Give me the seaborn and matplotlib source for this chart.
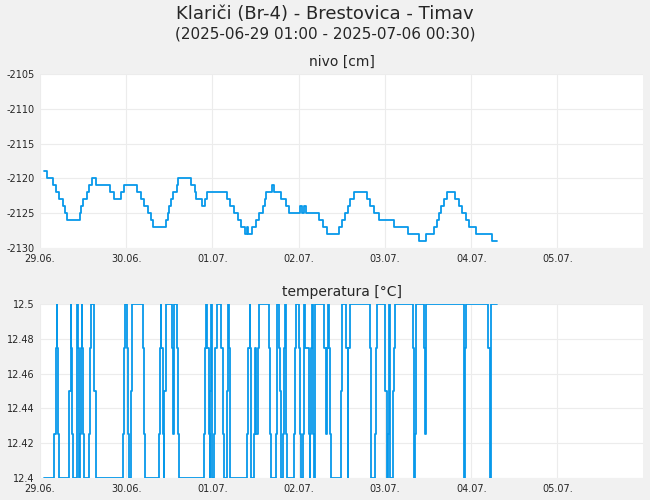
import matplotlib
matplotlib.use('Agg')
import matplotlib.pyplot as plt
import matplotlib.dates as mdates
import numpy as np
import pandas as pd
import seaborn as sns

start = pd.Timestamp('2025-06-29 00:00')

# nivo [cm]: hours from 29.06. 00:00 and level after each change
nivo_h = [1, 2, 3.5, 4.5, 5.3, 6.3, 7, 7.5, 11, 11.5, 12, 13, 13.5, 14.5, 15.5, 19.5, 20.5, 22.5,
          23.5, 27, 28, 29, 30, 31, 31.5, 35, 35.5, 36, 36.5, 37, 38, 38.5, 42, 43, 43.5, 45, 46,
          46.5, 52, 53, 54, 55, 56, 57, 57.5, 58, 59, 60, 61, 62, 62.5, 63, 64.5, 65.2, 67.0, 68.4,
          69.4, 72.4, 72.9, 73.4, 74.0, 77.7, 78.7, 80.0, 83.1, 84.0, 85.0, 85.6, 86.3, 87.5, 91.0,
          91.9, 93.0, 94.3, 98.4, 102.4, 105.4, 107.4, 109.6, 110.4, 111, 111.6, 112.3, 113.3, 115.5,
          116.5, 117.5, 118.6, 119.3, 121.4, 125.7, 127.2]
nivo_v = [-2119, -2120, -2121, -2122, -2123, -2124, -2125, -2126, -2125, -2124, -2123, -2122, -2121,
          -2120, -2121, -2122, -2123, -2122, -2121, -2122, -2123, -2124, -2125, -2126, -2127, -2126,
          -2125, -2124, -2123, -2122, -2121, -2120, -2121, -2122, -2123, -2124, -2123, -2122, -2123,
          -2124, -2125, -2126, -2127, -2128, -2127, -2128, -2127, -2126, -2125, -2124, -2123, -2122,
          -2121, -2122, -2123, -2124, -2125, -2124, -2125, -2124, -2125, -2126, -2127, -2128, -2127,
          -2126, -2125, -2124, -2123, -2122, -2123, -2124, -2125, -2126, -2127, -2128, -2129, -2128,
          -2127, -2126, -2125, -2124, -2123, -2122, -2123, -2124, -2125, -2126, -2127, -2128, -2129,
          -2129]

# temperatura [°C]
temp_h = [1, 4.0, 4.4, 4.6, 4.8, 5.1, 5.3, 8.2, 8.5, 8.6, 8.9, 9.2, 10.2, 10.4, 10.6, 10.9, 11.2,
          11.4, 11.6, 11.8, 12.1, 12.3, 13.5, 13.8, 14.1, 15.1, 15.5, 23.0, 23.4, 23.6, 24.2, 24.5,
          24.8, 25.2, 25.5, 28.6, 29.0, 29.3, 33.0, 33.4, 33.6, 33.8, 34.2, 34.4, 34.6, 35.0, 36.6,
          37.0, 37.2, 37.4, 38.1, 38.5, 38.6, 45.5, 45.9, 46.2, 46.6, 46.9, 47.2, 47.4, 47.6, 47.8,
          48.0, 48.3, 48.7, 49.2, 50.5, 50.9, 51.2, 52.0, 52.4, 52.7, 53.0, 57.6, 58.0, 58.3, 58.5,
          58.7, 59.5, 59.8, 60.2, 60.6, 61.0, 63.7, 64.1, 64.4, 65.7, 66.0, 66.6, 66.9, 67.1, 67.5,
          67.9, 68.2, 68.4, 68.6, 70.7, 71.0, 71.2, 72.2, 72.4, 72.7, 73.1, 73.4, 73.6, 73.8, 74.8,
          75.0, 75.1, 75.3, 75.6, 75.9, 76.1, 76.2, 76.4, 79.1, 79.6, 79.9, 80.1, 80.5, 80.8, 81.1,
          83.7, 84.1, 85.2, 85.6, 85.8, 86.2, 91.7, 92.0, 92.2, 93.3, 93.5, 93.8, 96.1, 96.5, 96.8,
          97.0, 97.2, 97.5, 98.2, 98.5, 98.9, 103.7, 104.0, 104.3, 104.7, 106.8, 107.2, 107.5, 117.9,
          118.1, 118.2, 118.6, 124.8, 125.1, 125.3, 125.5, 127.2]
temp_v = [12.4, 12.425, 12.475, 12.5, 12.475, 12.425, 12.4, 12.45, 12.5, 12.475, 12.425, 12.4, 12.45,
          12.5, 12.475, 12.4, 12.425, 12.475, 12.5, 12.475, 12.425, 12.4, 12.425, 12.475, 12.5, 12.45,
          12.4, 12.425, 12.475, 12.5, 12.475, 12.425, 12.4, 12.45, 12.5, 12.475, 12.425, 12.4, 12.425,
          12.475, 12.5, 12.475, 12.425, 12.4, 12.45, 12.5, 12.475, 12.425, 12.45, 12.5, 12.475, 12.425,
          12.4, 12.425, 12.475, 12.5, 12.475, 12.425, 12.4, 12.45, 12.5, 12.425, 12.4, 12.425, 12.475,
          12.5, 12.475, 12.425, 12.4, 12.45, 12.5, 12.475, 12.4, 12.425, 12.475, 12.5, 12.475, 12.4,
          12.425, 12.475, 12.425, 12.475, 12.5, 12.475, 12.425, 12.4, 12.425, 12.5, 12.475, 12.45,
          12.4, 12.425, 12.475, 12.5, 12.425, 12.4, 12.425, 12.475, 12.5, 12.475, 12.425, 12.4, 12.425,
          12.475, 12.5, 12.475, 12.425, 12.4, 12.425, 12.475, 12.5, 12.45, 12.425, 12.4, 12.5, 12.475,
          12.425, 12.475, 12.5, 12.475, 12.425, 12.4, 12.45, 12.5, 12.475, 12.4, 12.475, 12.5, 12.475,
          12.425, 12.4, 12.425, 12.475, 12.5, 12.45, 12.4, 12.425, 12.475, 12.5, 12.4, 12.45, 12.475,
          12.5, 12.475, 12.4, 12.425, 12.5, 12.475, 12.425, 12.5, 12.45, 12.4, 12.475, 12.5, 12.475,
          12.425, 12.4, 12.5, 12.5]

nivo = pd.DataFrame({'t': start + pd.to_timedelta(nivo_h, unit='h'), 'v': nivo_v})
temp = pd.DataFrame({'t': start + pd.to_timedelta(temp_h, unit='h'), 'v': temp_v})

sns.set_style('white')
color = '#0799ea'
fig = plt.figure(figsize=(6.5, 5), dpi=100, facecolor='#f1f1f1')
ax1 = fig.add_axes([40/650, 1-248/500, 603/650, 174/500])
ax2 = fig.add_axes([40/650, 1-478/500, 603/650, 174/500])

fig.text(0.5, 1-14/500, 'Klariči (Br-4) - Brestovica - Timav', ha='center', va='center', fontsize=13)
fig.text(0.5, 1-34/500, '(2025-06-29 01:00 - 2025-07-06 00:30)', ha='center', va='center', fontsize=11)

for ax, df, title, ticks in [(ax1, nivo, 'nivo [cm]', [-2130, -2125, -2120, -2115, -2110, -2105]),
                             (ax2, temp, 'temperatura [°C]', [12.4, 12.42, 12.44, 12.46, 12.48, 12.5])]:
    sns.lineplot(x='t', y='v', data=df, ax=ax, color=color, lw=1.3, drawstyle='steps-post')
    ax.set_facecolor('white')
    ax.set_xlim(start, start + pd.Timedelta(hours=167.8))
    ax.set_ylim(ticks[0], ticks[-1])
    ax.set_yticks(ticks)
    ax.set_yticklabels(['%g' % t for t in ticks])
    ax.xaxis.set_major_locator(mdates.DayLocator())
    ax.xaxis.set_major_formatter(mdates.DateFormatter('%d.%m.'))
    ax.grid(True, color='#ececec', lw=0.8)
    ax.tick_params(labelsize=7, length=0)
    ax.tick_params(axis='x', pad=4)
    ax.tick_params(axis='y', pad=4)
    ax.set_xlabel('')
    ax.set_ylabel('')
    ax.set_title(title, fontsize=10, pad=6)
    for s in ax.spines.values():
        s.set_visible(False)

fig.savefig('out.png', dpi=100, facecolor=fig.get_facecolor())
